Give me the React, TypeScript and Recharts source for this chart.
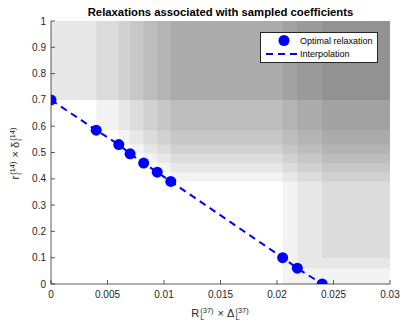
import React from 'react';
import { ComposedChart, Line, Scatter, XAxis, YAxis, ReferenceArea } from 'recharts';

// Optimal relaxation points
const relaxX = [0, 0.004, 0.006, 0.007, 0.0082, 0.0094, 0.0106, 0.0205, 0.0218, 0.024];
const relaxY = [0.7, 0.585, 0.53, 0.495, 0.46, 0.425, 0.39, 0.1, 0.06, 0];

// Lower-left corners of the shaded sampled-coefficient regions (each reaches the upper-right limits)
const regionX = [0, 0, 0.004, 0.006, 0.007, 0.0082, 0.0094, 0.0106, 0.0205, 0.0218, 0.024];
const regionY = [0.7, 0.7, 0.585, 0.53, 0.495, 0.46, 0.425, 0.39, 0, 0.06, 0.1];

const xTicks = [0, 0.005, 0.01, 0.015, 0.02, 0.025, 0.03];
const xTickLabels = ['0', '0.005', '0.01', '0.015', '0.02', '0.025', '0.03'];
const yTicks = [0, 0.1, 0.2, 0.3, 0.4, 0.5, 0.6, 0.7, 0.8, 0.9, 1];
const yTickLabels = ['0', '0.1', '0.2', '0.3', '0.4', '0.5', '0.6', '0.7', '0.8', '0.9', '1'];

const X_MAX = 0.03;
const Y_MAX = 1;

const points = relaxX.map((x, i) => ({ x, y: relaxY[i] }));

const BLUE = '#0000ff';
const AXIS = '#262626';
const FONT = '"Liberation Sans", Arial, Helvetica, sans-serif';

const Scripts = ({ sup, sub }: { sup: string; sub: string }) => (
  <span
    style={{
      display: 'inline-flex',
      flexDirection: 'column',
      verticalAlign: 'middle',
      fontSize: '0.68em',
      lineHeight: 1,
      marginLeft: 1,
      marginRight: 1,
    }}
  >
    <span>{sup}</span>
    <span>{sub}</span>
  </span>
);

export default function App() {
  return (
    <div style={{ position: 'relative', width: 416, height: 330, margin: -8, fontFamily: FONT, background: '#fff' }}>
      <ComposedChart
        width={416}
        height={330}
        data={points}
        margin={{ top: 21, right: 26, bottom: 16, left: 0 }}
      >
        {regionX.map((x0, i) => (
          <ReferenceArea
            key={i}
            x1={x0}
            x2={X_MAX}
            y1={regionY[i]}
            y2={Y_MAX}
            fill="#000"
            fillOpacity={0.049}
            stroke="none"
            ifOverflow="visible"
          />
        ))}
        <XAxis
          type="number"
          dataKey="x"
          domain={[0, X_MAX]}
          ticks={xTicks}
          tickFormatter={(_v: number, i: number) => xTickLabels[i]}
          height={30}
          tickSize={-4}
          tickMargin={11}
          interval={0}
          stroke={AXIS}
          strokeOpacity={0.75}
          tick={{ fill: AXIS, fontSize: 10, fontFamily: FONT }}
          allowDataOverflow
        />
        <YAxis
          type="number"
          domain={[0, Y_MAX]}
          ticks={yTicks}
          tickFormatter={(_v: number, i: number) => yTickLabels[i]}
          width={51}
          tickSize={-4}
          tickMargin={9}
          interval={0}
          stroke={AXIS}
          strokeOpacity={0.75}
          tick={{ fill: AXIS, fontSize: 10, fontFamily: FONT }}
          allowDataOverflow
        />
        <Line
          dataKey="y"
          type="linear"
          stroke={BLUE}
          strokeWidth={2}
          strokeDasharray="7 5"
          dot={false}
          activeDot={false}
          isAnimationActive={false}
        />
        <Scatter
          dataKey="y"
          fill={BLUE}
          isAnimationActive={false}
          shape={(p: any) => <circle cx={p.cx} cy={p.cy} r={5.5} fill={BLUE} />}
        />
      </ComposedChart>

      {/* Title */}
      <div
        style={{
          position: 'absolute',
          left: 220.5,
          top: 5,
          transform: 'translateX(-50%)',
          whiteSpace: 'nowrap',
          fontWeight: 'bold',
          fontSize: 11.3,
          lineHeight: '14px',
          color: '#000',
        }}
      >
        Relaxations associated with sampled coefficients
      </div>

      {/* X label */}
      <div
        style={{
          position: 'absolute',
          left: 220.5,
          top: 305,
          transform: 'translateX(-50%)',
          whiteSpace: 'nowrap',
          fontSize: 11,
          lineHeight: '16px',
          color: AXIS,
        }}
      >
        R<Scripts sup="(37)" sub="L" /> × Δ<Scripts sup="(37)" sub="L" />
      </div>

      {/* Y label */}
      <div
        style={{
          position: 'absolute',
          left: 15,
          top: 152.5,
          transform: 'translate(-50%, -50%) rotate(-90deg)',
          whiteSpace: 'nowrap',
          fontSize: 11,
          lineHeight: '16px',
          color: AXIS,
        }}
      >
        r<Scripts sup="(14)" sub="l" /> × δ<Scripts sup="(14)" sub="l" />
      </div>

      {/* Legend */}
      <div
        style={{
          position: 'absolute',
          left: 260,
          top: 32,
          width: 116,
          height: 29,
          border: `1px solid ${AXIS}`,
          background: '#fff',
          fontSize: 9,
          color: '#000',
        }}
      >
        <svg width={40} height={29} style={{ position: 'absolute', left: 0, top: 0 }}>
          <circle cx={23} cy={7.5} r={5.5} fill={BLUE} />
          <line x1={5} y1={21} x2={38} y2={21} stroke={BLUE} strokeWidth={2} strokeDasharray="7 5" />
        </svg>
        <div style={{ position: 'absolute', left: 39, top: 1.5, lineHeight: '12px', whiteSpace: 'nowrap' }}>
          Optimal relaxation
        </div>
        <div style={{ position: 'absolute', left: 39, top: 15, lineHeight: '12px', whiteSpace: 'nowrap' }}>
          Interpolation
        </div>
      </div>
    </div>
  );
}
